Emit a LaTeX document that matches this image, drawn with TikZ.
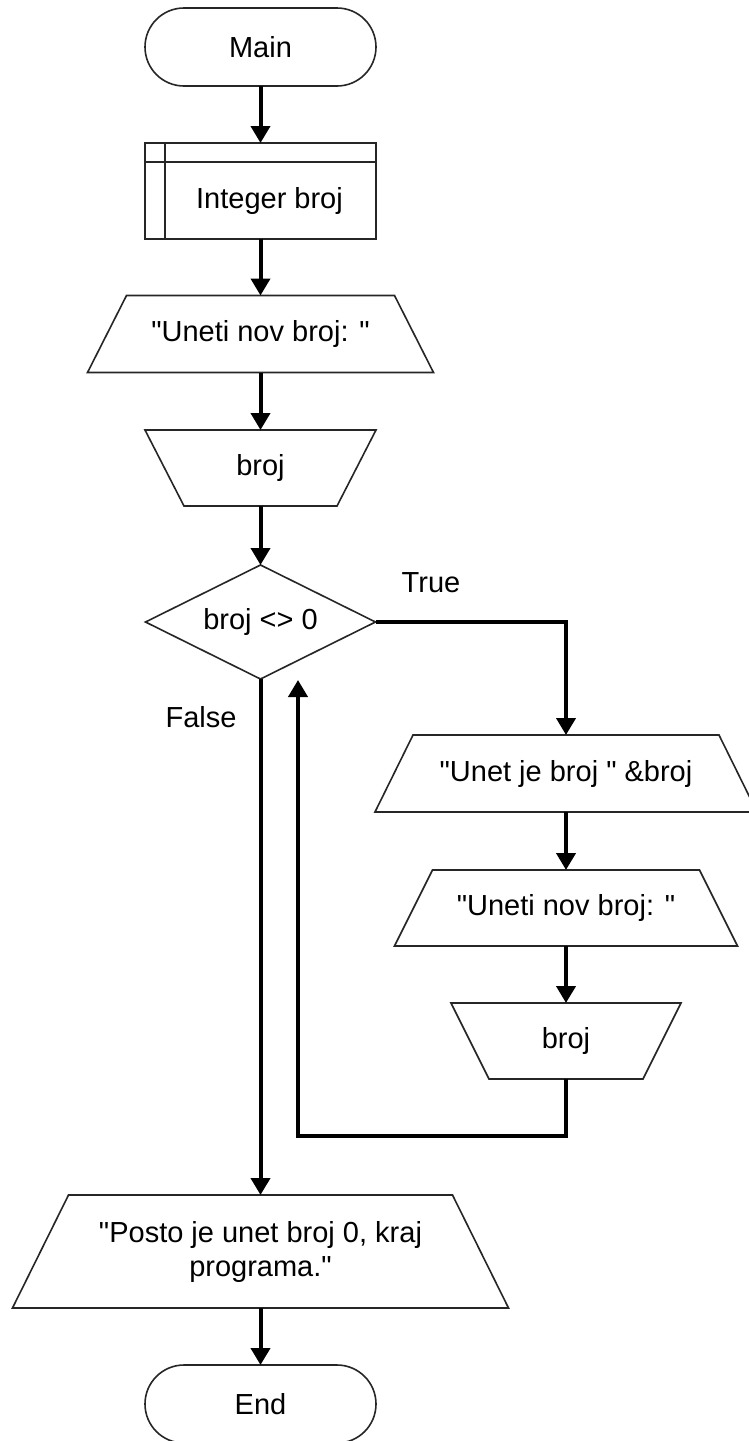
\documentclass[tikz,border=0pt]{standalone}
\usepackage{fontspec}
\setmainfont{Liberation Sans}[Ligatures=TeXOff]
\usetikzlibrary{arrows.meta,calc}
\begin{document}
\begin{tikzpicture}[x=1pt,y=-1pt,
  font=\fontsize{29}{34}\selectfont,
  shp/.style={draw=black!85, line width=1.6pt},
  txt/.style={inner sep=0pt, outer sep=0pt, align=center},
  holder/.style={inner sep=0pt, outer sep=0pt, align=center, minimum width=#1},
  flow/.style={line width=4pt, -{Triangle[length=17pt,width=19pt]}},
  term/.style={shp, rounded corners=39pt, minimum width=231pt, minimum height=78pt, inner sep=0pt, outer sep=0pt},
]
\useasboundingbox[fill=white] (0,0) rectangle (749,1441);

% terminals
\node[term] (main) at (260.5,47) {Main};
\node[term] (endn) at (260.5,1404) {End};

% declaration box
\node[shp, minimum width=231pt, minimum height=96pt, inner sep=0pt, outer sep=0pt] (decl) at (260.5,191) {};
\draw[shp] ($(decl.north west)+(20,0)$) -- ($(decl.south west)+(20,0)$);
\draw[shp] ($(decl.north west)+(0,19)$) -- ($(decl.north east)+(0,19)$);
\node[txt] (decltext) at (269.5,200.5) {Integer broj};

% output 1
\node[holder=268pt, minimum height=77pt] (o1) at (260.5,334) {"Uneti nov broj: "};
\draw[shp] (o1.north west) -- (o1.north east) -- ($(o1.south east)+(39,0)$) -- ($(o1.south west)+(-39,0)$) -- cycle;

% input 1
\node[holder=231pt, minimum height=76pt] (i1) at (260.5,468) {broj};
\draw[shp] (i1.north west) -- (i1.north east) -- ($(i1.south east)+(-39,0)$) -- ($(i1.south west)+(39,0)$) -- cycle;

% decision
\node[holder=230pt, minimum height=114pt] (dec) at (260.5,622) {broj <> 0};
\draw[shp] (dec.north) -- (dec.east) -- (dec.south) -- (dec.west) -- cycle;

% output 2
\node[holder=306pt, minimum height=77pt] (o2) at (566,773.5) {"Unet je broj " \&broj};
\draw[shp] (o2.north west) -- (o2.north east) -- ($(o2.south east)+(38,0)$) -- ($(o2.south west)+(-38,0)$) -- cycle;

% output 3
\node[holder=267pt, minimum height=76pt] (o3) at (566,908) {"Uneti nov broj: "};
\draw[shp] (o3.north west) -- (o3.north east) -- ($(o3.south east)+(38,0)$) -- ($(o3.south west)+(-38,0)$) -- cycle;

% input 2
\node[holder=230pt, minimum height=76pt] (i2) at (566,1041) {broj};
\draw[shp] (i2.north west) -- (i2.north east) -- ($(i2.south east)+(-38,0)$) -- ($(i2.south west)+(38,0)$) -- cycle;

% output 4
\node[holder=384pt, minimum height=113pt] (o4) at (260.5,1251.5) {"Posto je unet broj 0, kraj\\programa."};
\draw[shp] (o4.north west) -- (o4.north east) -- ($(o4.south east)+(56,0)$) -- ($(o4.south west)+(-56,0)$) -- cycle;

% labels
\node[txt] (ltrue) at (431,583) {True};
\node[txt] (lfalse) at (201,717) {False};

% loop coordinates
\coordinate (loopcorner) at (298,1136);
\coordinate (loopend) at (298,680);

% connectors
\draw[flow] (main.south) -- (decl.north);
\draw[flow] (decl.south) -- (o1.north);
\draw[flow] (o1.south) -- (i1.north);
\draw[flow] (i1.south) -- (dec.north);
\draw[flow] (dec.east) -| (o2.north);
\draw[flow] (o2.south) -- (o3.north);
\draw[flow] (o3.south) -- (i2.north);
\draw[flow] (i2.south) |- (loopcorner) -- (loopend);
\draw[flow] (dec.south) -- (o4.north);
\draw[flow] (o4.south) -- (endn.north);
\end{tikzpicture}
\end{document}
